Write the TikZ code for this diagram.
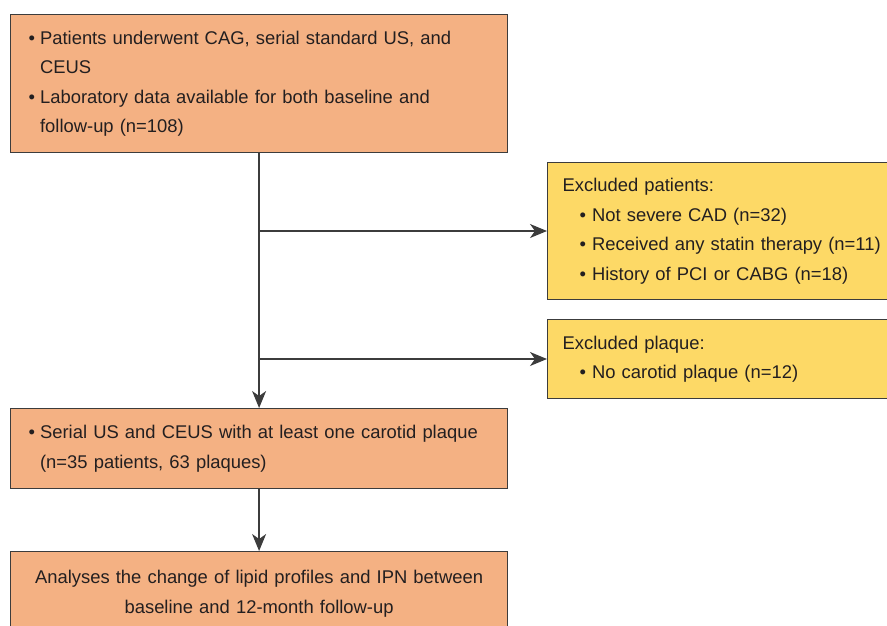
\documentclass[tikz,border=0pt]{standalone}
\usepackage{fontspec}
\setmainfont{Liberation Sans}
\usetikzlibrary{arrows.meta}
\definecolor{boxorange}{HTML}{F4B183}
\definecolor{boxyellow}{HTML}{FDD966}
\definecolor{edgecol}{HTML}{3C3C3C}
\definecolor{inkcol}{HTML}{231F20}
\newcommand\obul{\makebox[11.5pt][l]{\textbullet}}
\newcommand\oind{\hspace*{11.5pt}}
\newcommand\ybul{\hspace*{17pt}\makebox[12.5pt][l]{\textbullet}}
\begin{document}
\begin{tikzpicture}[x=1pt,y=-1pt,
  box/.style={draw=edgecol, line width=1.2pt, rectangle, anchor=north west, inner ysep=0pt,
    font=\fontsize{18.4}{29.5}\selectfont, text=inkcol},
  orangebox/.style={box, fill=boxorange, inner xsep=18pt, text width=461pt, minimum width=497pt},
  yellowbox/.style={box, fill=boxyellow, inner xsep=15pt, text width=330pt, minimum width=360pt},
  link/.style={draw=edgecol, line width=1.3pt, -{Stealth[length=17pt,width=14pt,inset=5pt]}}]
\useasboundingbox (0,0) rectangle (887,625);
\node[orangebox, align=left, minimum height=138pt] (top) at (10,14)
  {\obul Patients underwent CAG, serial standard US, and\\
   \oind CEUS\\
   \obul Laboratory data available for both baseline and\\
   \oind follow-up (n=108)};
\node[yellowbox, align=left, minimum height=137pt] (ex1) at (547,162)
  {Excluded patients:\\
   \ybul Not severe CAD (n=32)\\
   \ybul Received any statin therapy (n=11)\\
   \ybul History of PCI or CABG (n=18)};
\node[yellowbox, align=left, minimum height=79pt] (ex2) at (547,319)
  {Excluded plaque:\\
   \ybul No carotid plaque (n=12)};
\node[orangebox, align=left, minimum height=80pt] (mid) at (10,408)
  {\obul Serial US and CEUS with at least one carotid plaque\\
   \oind (n=35 patients, 63 plaques)};
\node[orangebox, align=center, minimum height=84pt] (last) at (10,551)
  {Analyses the change of lipid profiles and IPN between\\
   baseline and 12-month follow-up};
\coordinate (j1) at (top.south |- 0,231);
\coordinate (j2) at (top.south |- 0,359);
\draw[link] (top.south) -- (mid.north);
\draw[link] (j1) -- (j1 -| ex1.west);
\draw[link] (j2) -- (j2 -| ex2.west);
\draw[link] (mid.south) -- (last.north);
\end{tikzpicture}
\end{document}
